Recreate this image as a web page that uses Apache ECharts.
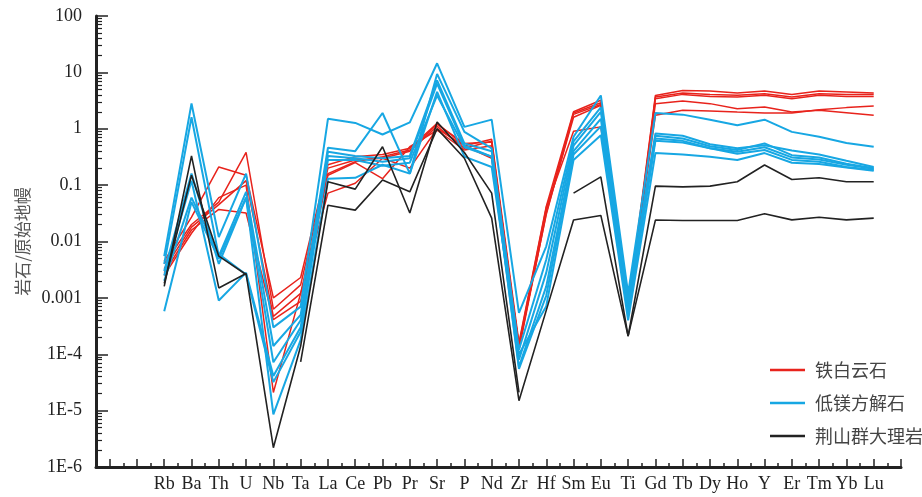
<!DOCTYPE html>
<html>
<head>
<meta charset="utf-8">
<script src="https://cdn.jsdelivr.net/npm/echarts@6/dist/echarts.min.js"></script>
<style>
  html, body { margin: 0; padding: 0; background: #fff; }
  #chart { width: 922px; height: 497px; }
</style>
</head>
<body>
<div id="chart"></div>
<script>
const elements = ['Rb', 'Ba', 'Th', 'U', 'Nb', 'Ta', 'La', 'Ce', 'Pb', 'Pr', 'Sr', 'P', 'Nd', 'Zr', 'Hf',
  'Sm', 'Eu', 'Ti', 'Gd', 'Tb', 'Dy', 'Ho', 'Y', 'Er', 'Tm', 'Yb', 'Lu'];

// 铁白云石
const ankerite = [
  [0.0045, 0.027, 0.21, 0.15, 0.001, 0.0023, 0.23, 0.32, 0.35, 0.45, 1.25, 0.5, 0.65, 1.6e-4, 0.042, 2.0, 3.2, 7e-4, 3.9, 4.79, 4.66, 4.3, 4.66, 4.07, 4.66, 4.48, 4.3],
  [0.004, 0.02, 0.05, 0.38, 6.3e-4, 0.0017, 0.2, 0.28, 0.3, 0.4, 1.1, 0.45, 0.6, 1.3e-4, 0.035, 1.9, 2.9, 6e-4, 3.65, 4.3, 4.07, 3.91, 4.18, 3.65, 4.18, 4.07, 4.07],
  [0.0033, 0.018, 0.045, 0.12, 4.7e-4, 0.0012, 0.16, 0.26, 0.32, 0.42, 1.2, 0.55, 0.58, 1.2e-4, 0.032, 1.6, 2.6, 5.5e-4, 3.41, 4.07, 3.75, 3.65, 3.91, 3.41, 3.91, 3.75, 3.75],
  [0.0028, 0.016, 0.037, 0.032, 4.1e-4, 8.7e-4, 0.15, 0.25, 0.13, 0.48, 0.94, 0.42, 0.5, 1.4e-4, 0.03, 1.8, 2.7, 6.5e-4, 2.79, 3.1, 2.79, 2.27, 2.43, 1.98, 2.12, 1.93, 1.73],
  [0.0025, 0.014, 0.06, 0.1, 2.1e-5, 0.0012, 0.072, 0.108, 0.3, 0.2, 1.0, 0.5, 0.3, 1.5e-4, 0.04, 0.9, 1.08, 7e-4, 1.73, 2.12, 2.07, 1.98, 1.9, 1.9, 2.18, 2.37, 2.53]
];

// 低镁方解石
const calcite = [
  [0.0055, 2.8, 0.012, 0.16, 3e-4, 7e-4, 1.5, 1.27, 0.79, 1.3, 14.5, 1.08, 1.45, 5.4e-4, 0.0082, 0.72, 3.9, 0.0012, 1.9, 1.78, 1.45, 1.15, 1.45, 0.88, 0.72, 0.56, 0.48],
  [0.004, 1.6, 0.0055, 0.076, 1.4e-4, 5e-4, 0.46, 0.4, 1.9, 0.16, 9.4, 0.88, 0.45, 1.2e-4, 0.0048, 0.6, 2.4, 0.001, 0.82, 0.75, 0.53, 0.45, 0.51, 0.41, 0.35, 0.27, 0.21],
  [0.003, 0.16, 0.004, 0.06, 7.2e-5, 4e-4, 0.39, 0.33, 0.3, 0.33, 7.2, 0.55, 0.4, 8e-5, 0.0028, 0.5, 2.0, 8e-4, 0.75, 0.67, 0.49, 0.42, 0.55, 0.34, 0.31, 0.24, 0.2],
  [0.0025, 0.12, 0.0009, 0.0028, 4.1e-5, 3e-4, 0.33, 0.3, 0.26, 0.3, 6.3, 0.5, 0.32, 6e-5, 0.0016, 0.4, 1.5, 6e-4, 0.67, 0.61, 0.45, 0.39, 0.47, 0.31, 0.285, 0.23, 0.195],
  [0.002, 0.06, 0.006, 0.0026, 3.2e-5, 2.5e-4, 0.28, 0.28, 0.22, 0.25, 3.9, 0.47, 0.32, 5.5e-5, 0.0011, 0.35, 1.1, 5e-4, 0.61, 0.57, 0.45, 0.36, 0.42, 0.28, 0.26, 0.21, 0.185],
  [0.00058, 0.05, 0.005, 0.06, 8.6e-6, 1.8e-4, 0.13, 0.135, 0.23, 0.16, 4.5, 0.32, 0.21, 1e-4, 7.1e-4, 0.28, 0.77, 4e-4, 0.37, 0.35, 0.32, 0.28, 0.37, 0.25, 0.236, 0.206, 0.18]
];

// 荆山群大理岩
const marble = [
  [0.0016, 0.33, 0.0015, 0.0027, 2.2e-6, 1.4e-4, 0.115, 0.085, 0.48, 0.032, 1.32, 0.38, 0.072, 2.1e-5, null, 0.072, 0.14, 2.1e-4, 0.096, 0.093, 0.096, 0.115, 0.227, 0.126, 0.135, 0.115, 0.115],
  [null, null, null, null, null, 7.3e-5, 0.044, 0.036, 0.123, 0.076, 1.0, 0.3, 0.026, 1.5e-5, 6e-4, 0.024, 0.029, 2.1e-4, 0.024, 0.0236, 0.0236, 0.0236, 0.031, 0.0242, 0.027, 0.0242, 0.026],
  [0.0018, 0.15, 0.0055, 0.0026, null, null, null, null, null, null, null, null, null, null, null, null, null, null, null, null, null, null, null, null, null, null, null]
];

const groupNames = ['铁白云石', '低镁方解石', '荆山群大理岩'];
const groupColors = ['#e8231c', '#17a7e3', '#222222'];
const groupWidths = [1.5, 2, 1.6];

const yMajor = ['1E-6', '1E-5', '1E-4', '0.001', '0.01', '0.1', '1', '10', '100'];

const majorX = [];
for (let i = -2; i <= 27; i++) majorX.push(i);
const minorX = [];
for (let i = -1.5; i <= 26.5; i += 1) minorX.push(i);
const labelX = elements.map((e, i) => i);
const minorY = [];
for (let e = -6; e <= 1; e++) {
  for (let k = 2; k <= 9; k++) minorY.push(k * Math.pow(10, e));
}

const serif = 'Liberation Serif';
const cjk = '"Noto Sans CJK SC"';

const toData = (arr) => arr.map((v, i) => [i, v == null ? '-' : v]);

const series = [];
const addGroup = (rows, g) => {
  rows.forEach((row) => {
    series.push({
      name: groupNames[g],
      type: 'line',
      data: toData(row),
      symbol: 'none',
      connectNulls: false,
      silent: true,
      lineStyle: { color: groupColors[g], width: groupWidths[g] },
      itemStyle: { color: groupColors[g] },
      z: 3 + g
    });
  });
};
addGroup(calcite, 1);
addGroup(ankerite, 0);
addGroup(marble, 2);

const chart = echarts.init(document.getElementById('chart'));
chart.setOption({
  animation: false,
  backgroundColor: '#fff',
  grid: { left: 96, right: 21, top: 16, bottom: 30 },
  legend: {
    data: groupNames,
    orient: 'vertical',
    left: 765,
    top: 356,
    itemWidth: 35,
    itemHeight: 2.5,
    itemGap: 15,
    icon: 'rect',
    textStyle: { fontFamily: cjk, fontSize: 18, color: '#444', padding: [0, 0, 0, 5] }
  },
  xAxis: [
    {
      type: 'value',
      min: -2.5,
      max: 27,
      splitLine: { show: false },
      axisLine: { onZero: false, lineStyle: { color: '#222', width: 3 } },
      axisTick: { inside: true, length: 8, customValues: majorX, lineStyle: { color: '#222', width: 1.5 } },
      axisLabel: {
        customValues: labelX,
        margin: 8,
        fontFamily: serif,
        fontSize: 18,
        color: '#222',
        formatter: (v) => elements[Math.round(v)] || ''
      }
    },
    {
      type: 'value',
      min: -2.5,
      max: 27,
      position: 'bottom',
      splitLine: { show: false },
      axisLine: { show: false, onZero: false },
      axisTick: { inside: true, length: 4, customValues: minorX, lineStyle: { color: '#222', width: 1.5 } },
      axisLabel: { show: false }
    }
  ],
  yAxis: [
    {
      type: 'log',
      logBase: 10,
      min: 1e-6,
      max: 100,
      name: '岩石/原始地幔',
      nameLocation: 'middle',
      nameGap: 62,
      nameTextStyle: { fontFamily: cjk, fontSize: 17, color: '#555' },
      splitLine: { show: false },
      axisLine: { onZero: false, lineStyle: { color: '#222', width: 3 } },
      axisTick: { inside: true, length: 12, lineStyle: { color: '#222', width: 1.5 } },
      axisLabel: {
        margin: 14,
        fontFamily: serif,
        fontSize: 18,
        color: '#222',
        formatter: (v) => yMajor[Math.round(Math.log10(v)) + 6] || ''
      }
    },
    {
      type: 'log',
      logBase: 10,
      min: 1e-6,
      max: 100,
      position: 'left',
      splitLine: { show: false },
      axisLine: { show: false, onZero: false },
      axisTick: { inside: true, length: 6, customValues: minorY, lineStyle: { color: '#222', width: 1.2 } },
      axisLabel: { show: false }
    }
  ],
  series: series
});
window.addEventListener('resize', chart.resize);
</script>
</body>
</html>
